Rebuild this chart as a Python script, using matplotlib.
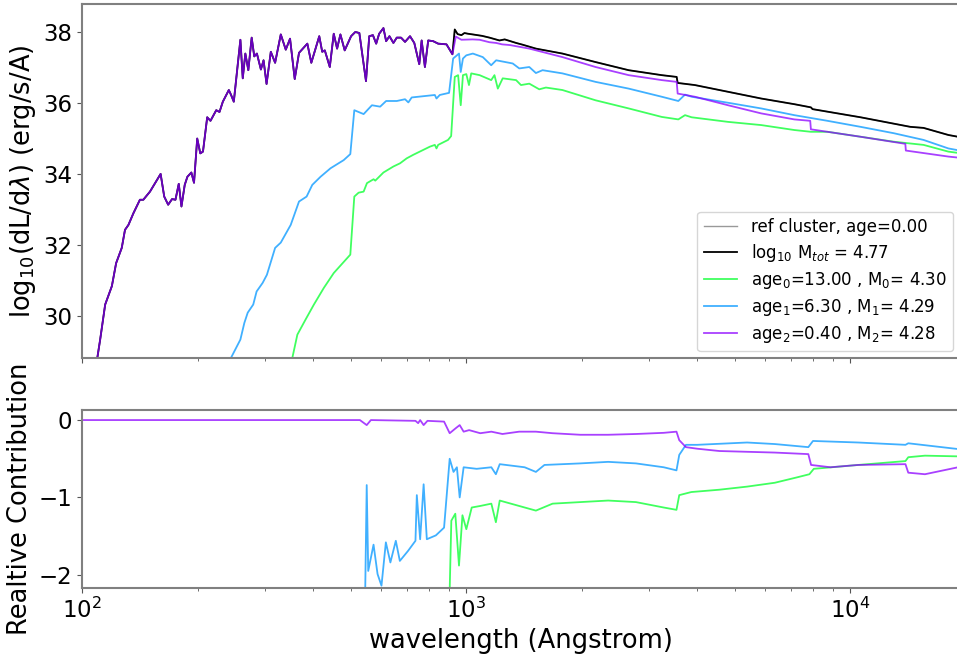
import matplotlib

matplotlib.use("Agg")
import matplotlib.pyplot as plt

# ---- top panel: log10(dL/dlambda) ----
young_wave = [105, 111.5, 114.9, 119.6, 122.7, 126.9, 129.4, 132.1, 136.1, 141.5, 144.4,
              150.3, 160.2, 163.7, 167.6, 171.6, 175.1, 178.6, 181.5, 185.1, 188.1, 192.6,
              195.7, 199.5, 203.2, 206.5, 211.8, 216.0, 223.6, 228.0, 232.6, 241.1, 244.4,
              248.4, 258.4, 262.1, 266.2, 271.0, 276.5, 280.8, 285.3, 292.2, 296.9, 302.3,
              310.1, 318.2, 329.2, 339.2, 348.0, 357.9, 367.2, 386.0, 395.3, 414.6, 422.0,
              428.6, 441.6, 452.2, 461.4, 470.6, 482.9, 501.7, 514.7, 527.2, 548.6, 559.4,
              571.9, 583.2, 593.7, 609.1, 619.0, 631.4, 646.6, 659.8, 676.9, 693.3, 714.3,
              732.8, 755.0, 765.9, 781.0, 796.6, 820.6, 845.5, 888.8, 921.0]
young_uv = [27.5, 29.32, 30.31, 30.83, 31.48, 31.91, 32.42, 32.56, 32.89, 33.27, 33.27,
            33.50, 34.00, 33.36, 33.13, 33.29, 33.27, 33.72, 33.08, 33.69, 33.92, 34.04,
            33.75, 35.00, 34.58, 34.63, 35.60, 35.50, 35.80, 35.75, 36.04, 36.37, 36.23,
            36.04, 37.79, 36.70, 37.40, 36.93, 37.85, 37.32, 37.40, 36.95, 37.21, 36.54,
            37.45, 37.14, 37.94, 37.51, 37.82, 36.68, 37.42, 37.68, 37.14, 37.89, 37.45,
            37.49, 37.02, 37.96, 37.54, 37.94, 37.49, 37.89, 38.01, 37.98, 36.62, 37.89,
            37.92, 37.68, 37.96, 38.12, 37.75, 37.89, 37.70, 37.85, 37.85, 37.73, 37.89,
            37.70, 37.10, 37.77, 37.02, 37.77, 37.75, 37.68, 37.66, 37.38]

young_opt_wave = [940, 972, 1040, 1084, 1150, 1197, 1240, 1300, 1460, 1781, 2172, 2649,
                  3230, 3532, 3553, 3940, 4806, 5861, 7149, 7864, 7896, 10634, 13907,
                  13950, 18000, 19500]
young_opt = [37.88, 37.79, 37.80, 37.79, 37.72, 37.70, 37.66, 37.64, 37.54, 37.30, 37.02,
             36.79, 36.65, 36.60, 36.27, 36.18, 35.94, 35.71, 35.54, 35.50, 35.26, 35.05,
             34.85, 34.66, 34.49, 34.45]

total_opt_wave = [934, 950, 972, 990, 1011, 1041, 1100, 1150, 1221, 1260, 1349, 1403,
                  1519, 1781, 2172, 2649, 3230, 3532, 3553, 3940, 4806, 5861, 7149, 7896,
                  7976, 10634, 14327, 15513, 18000, 19500]
total_opt = [38.08, 37.95, 37.92, 37.98, 37.96, 37.94, 37.90, 37.85, 37.77, 37.80, 37.70,
             37.65, 37.54, 37.40, 37.16, 36.93, 36.79, 36.74, 36.57, 36.51, 36.32, 36.13,
             35.97, 35.88, 35.83, 35.60, 35.33, 35.30, 35.10, 35.03]

old_wave = [340, 352.9, 363.6, 382.1, 401.5, 426.1, 452.2, 499.4, 511.5, 524.8, 540.9,
            551.8, 574.1, 580, 609.1, 646.6, 672.9, 700.2, 728.4, 804.6, 828.8, 837.1,
            845.5, 897, 914, 934, 953, 968, 981, 1001, 1017, 1031, 1084, 1162, 1185, 1209,
            1245, 1349, 1389, 1460, 1550, 1613, 1781, 2172, 2649, 3230, 3567, 3713, 3863,
            4806, 5861, 7149, 7896, 8721, 10634, 12974, 15513, 18000, 19500]
old_flux = [27.5, 28.81, 29.46, 29.89, 30.31, 30.78, 31.20, 31.72, 33.36, 33.47, 33.50,
            33.74, 33.85, 33.81, 34.04, 34.21, 34.30, 34.44, 34.54, 34.77, 34.82, 34.72,
            34.82, 34.96, 35.07, 36.74, 36.79, 35.94, 36.79, 36.82, 36.51, 36.84, 36.79,
            36.65, 36.79, 36.41, 36.70, 36.65, 36.51, 36.55, 36.39, 36.44, 36.37, 36.08,
            35.85, 35.61, 35.54, 35.66, 35.60, 35.47, 35.38, 35.24, 35.19, 35.19, 35.05,
            34.91, 34.82, 34.63, 34.58]

mid_wave = [235, 244.4, 258.4, 264.6, 270, 279.1, 284.8, 295.2, 302.9, 318.2, 329.2,
            349.4, 367.2, 384.3, 397.6, 417.8, 443.6, 480, 499.4, 511.5, 540.9, 568.5,
            597.2, 619, 659.8, 693.3, 707.2, 721.5, 781, 828.8, 837.1, 853.8, 902.7, 925,
            958, 968, 981, 1001, 1041, 1105, 1162, 1197, 1322, 1375, 1460, 1519, 1581,
            1781, 2172, 2649, 3230, 3567, 3713, 3863, 4806, 5861, 7149, 8721, 10634,
            12974, 15513, 18000, 19500]
mid_flux = [27.8, 28.81, 29.32, 29.79, 30.08, 30.31, 30.68, 30.92, 31.15, 31.91, 32.06,
            32.56, 33.22, 33.36, 33.69, 33.92, 34.16, 34.39, 34.56, 35.80, 35.69, 35.94,
            35.90, 36.06, 36.06, 36.11, 36.02, 36.16, 36.20, 36.23, 36.13, 36.23, 36.29,
            37.26, 37.40, 36.88, 37.26, 37.35, 37.40, 37.30, 37.07, 37.21, 37.12, 36.98,
            37.02, 36.85, 36.93, 36.84, 36.60, 36.41, 36.18, 36.06, 36.24, 36.18, 36.01,
            35.85, 35.66, 35.50, 35.33, 35.15, 34.96, 34.72, 34.65]

# ---- bottom panel: relative contribution (log) ----
rel_old_wave = [902, 915, 937, 958, 978, 1001, 1034, 1088, 1163, 1195, 1223, 1374, 1519,
                1679, 1982, 2342, 2767, 3268, 3528, 3587, 3857, 4561, 5386, 6361, 7271,
                7825, 8035, 10489, 13918, 14155, 15642, 19500]
rel_old = [-2.6, -1.30, -1.21, -1.88, -1.23, -1.41, -1.13, -1.11, -1.08, -1.32, -1.04,
           -1.11, -1.17, -1.08, -1.06, -1.04, -1.06, -1.13, -1.16, -0.97, -0.93, -0.90,
           -0.86, -0.81, -0.74, -0.70, -0.63, -0.58, -0.53, -0.48, -0.46, -0.47]

rel_mid_wave = [545, 551, 556, 574, 588, 602, 618, 635, 656, 672, 706, 738, 744, 759,
                775, 790, 834, 876, 906, 927, 946, 962, 985, 1065, 1163, 1195, 1223, 1420,
                1519, 1599, 1982, 2342, 2767, 3268, 3528, 3587, 3734, 3992, 5386, 6361,
                7775, 7996, 10489, 13918, 14155, 19500]
rel_mid = [-2.5, -0.84, -1.95, -1.61, -1.99, -2.14, -1.58, -1.84, -1.56, -1.82, -1.69,
           -1.56, -0.97, -1.54, -0.83, -1.54, -1.49, -1.39, -0.50, -0.67, -0.61, -1.00,
           -0.61, -0.63, -0.61, -0.70, -0.57, -0.61, -0.67, -0.58, -0.56, -0.54, -0.56,
           -0.61, -0.65, -0.45, -0.32, -0.32, -0.29, -0.31, -0.35, -0.27, -0.29, -0.32,
           -0.30, -0.38]

rel_young_wave = [100, 529, 551, 565, 738, 750, 759, 775, 793, 876, 906, 937, 962, 985,
                  1018, 1088, 1163, 1243, 1374, 1519, 1679, 1982, 2342, 2767, 3268, 3528,
                  3587, 3734, 3992, 4561, 5386, 6361, 7775, 7905, 8877, 10489, 13918,
                  14155, 15642, 19500]
rel_young = [0.0, 0.0, -0.065, 0.0, -0.01, -0.04, 0.0, -0.065, -0.01, -0.02, -0.17, -0.11,
             -0.065, -0.15, -0.13, -0.17, -0.15, -0.18, -0.15, -0.15, -0.17, -0.19, -0.19,
             -0.18, -0.165, -0.15, -0.26, -0.35, -0.37, -0.40, -0.41, -0.42, -0.44, -0.58,
             -0.61, -0.58, -0.57, -0.68, -0.70, -0.60]

labels = ["ref cluster, age=0.00",
          r"log$_{10}$ M$_{tot}$ = 4.77",
          r"age$_0$=13.00 , M$_0$= 4.30",
          r"age$_1$=6.30 , M$_1$= 4.29",
          r"age$_2$=0.40 , M$_2$= 4.28"]

C_OLD = "#00ff2a"
C_MID = "#0096ff"
C_YOUNG = "#8c00ff"
SPINE = "#808080"

plt.rcParams["font.family"] = "DejaVu Sans"
plt.rcParams["mathtext.fontset"] = "dejavusans"

fig = plt.figure(figsize=(9.57, 6.55), dpi=100)
W, H = 957.0, 655.0
left = 82 / W
width = (960 - 82) / W
ax1 = fig.add_axes([left, 1 - 358 / H, width, (358 - 4) / H])
ax2 = fig.add_axes([left, 1 - 588 / H, width, (588 - 410) / H], sharex=ax1)

total_wave = young_wave + total_opt_wave
total_flux = young_uv + total_opt

ax1.plot(total_wave, total_flux, color="0.6", lw=1.0, label=labels[0])
ax1.plot(total_wave, total_flux, color="black", lw=1.3, label=labels[1])
ax1.plot(old_wave, old_flux, color=C_OLD, lw=1.3, alpha=0.75, label=labels[2])
ax1.plot(mid_wave, mid_flux, color=C_MID, lw=1.3, alpha=0.75, label=labels[3])
ax1.plot(young_wave + young_opt_wave, young_uv + young_opt, color=C_YOUNG, lw=1.3,
         alpha=0.75, label=labels[4])

ax2.plot(rel_old_wave, rel_old, color=C_OLD, lw=1.3, alpha=0.75)
ax2.plot(rel_mid_wave, rel_mid, color=C_MID, lw=1.3, alpha=0.75)
ax2.plot(rel_young_wave, rel_young, color=C_YOUNG, lw=1.3, alpha=0.75)

ax1.set_xscale("log")
ax1.set_xlim(100, 19300)
ax1.set_ylim(28.8, 38.8)
ax2.set_ylim(-2.17, 0.13)
ax1.set_yticks([30, 32, 34, 36, 38])
ax2.set_yticks([0, -1, -2])

for ax in (ax1, ax2):
    for sp in ax.spines.values():
        sp.set_color(SPINE)
        sp.set_linewidth(1.5)
    ax.tick_params(which="both", direction="out", color="#555555", labelsize=16.5)
ax1.tick_params(axis="x", which="both", labelbottom=False)

ax1.set_ylabel(r"log$_{10}$(dL/d$\lambda$) (erg/s/A)", fontsize=18.5)
ax2.set_ylabel("Realtive Contribution", fontsize=18.5)
ax2.set_xlabel("wavelength (Angstrom)", fontsize=18.5)

ax1.legend(loc="lower right", fontsize=12, framealpha=0.8, labelspacing=0.35,
           borderaxespad=0.4)

fig.savefig("out.png", dpi=100)
plt.close(fig)
